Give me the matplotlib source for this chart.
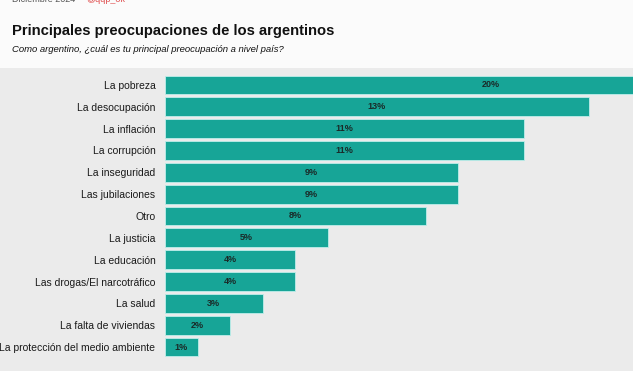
import matplotlib.pyplot as plt
from matplotlib.patches import Rectangle

categories = [
    "La pobreza",
    "La desocupación",
    "La inflación",
    "La corrupción",
    "La inseguridad",
    "Las jubilaciones",
    "Otro",
    "La justicia",
    "La educación",
    "Las drogas/El narcotráfico",
    "La salud",
    "La falta de viviendas",
    "La protección del medio ambiente",
]
values = [20, 13, 11, 11, 9, 9, 8, 5, 4, 4, 3, 2, 1]
labels = [f"{v}%" for v in values]

W, H = 633, 371
plt.rcParams["font.family"] = ["Liberation Sans", "DejaVu Sans"]

fig = plt.figure(figsize=(W / 100, H / 100), dpi=100)
fig.patch.set_facecolor("#fbfbfb")
# grey panel behind the chart
fig.patches.append(Rectangle((0, 0), 1, 1 - 68 / H, transform=fig.transFigure,
                             facecolor="#ebebeb", edgecolor="none", zorder=-10))

fig.text(12 / W, 1 - 31 / H, "Principales preocupaciones de los argentinos",
         fontsize=10.6, fontweight="bold", color="#111111", va="center")
fig.text(12 / W, 1 - 50 / H, "Como argentino, ¿cuál es tu principal preocupación a nivel país?",
         fontsize=6.8, style="italic", color="#111111", va="center")
fig.text(12 / W, 1 + 1 / H, "Diciembre 2024 ·", fontsize=6.5, color="#555555", va="center")
fig.text(86 / W, 1 + 1 / H, "@qqp_ok", fontsize=6.5, color="#e05050", va="center")

left = 165 / W
ax = fig.add_axes([left, 1 - 358 / H, 1 - left, (358 - 74) / H])
ax.set_facecolor("none")
scale = 32.6  # pixels per percent
ax.set_xlim(0, (W - 165) / scale)
ax.set_ylim(len(categories) - 0.5, -0.5)

y = range(len(categories))
bars = ax.barh(y, values, height=0.86, color="#17a597", edgecolor="#bfeeea", linewidth=0.6)
for b, lab in zip(bars, labels):
    ax.text(b.get_width() / 2, b.get_y() + b.get_height() / 2, lab,
            ha="center", va="center", fontsize=6.5, fontweight="bold", color="#1a2a28")

ax.set_yticks(list(y))
ax.set_yticklabels(categories, fontsize=7.5, color="#1a1a1a")
ax.tick_params(axis="y", length=0, pad=7)
ax.set_xticks([])
for s in ax.spines.values():
    s.set_visible(False)

fig.savefig("out.png", dpi=100, facecolor=fig.get_facecolor())
